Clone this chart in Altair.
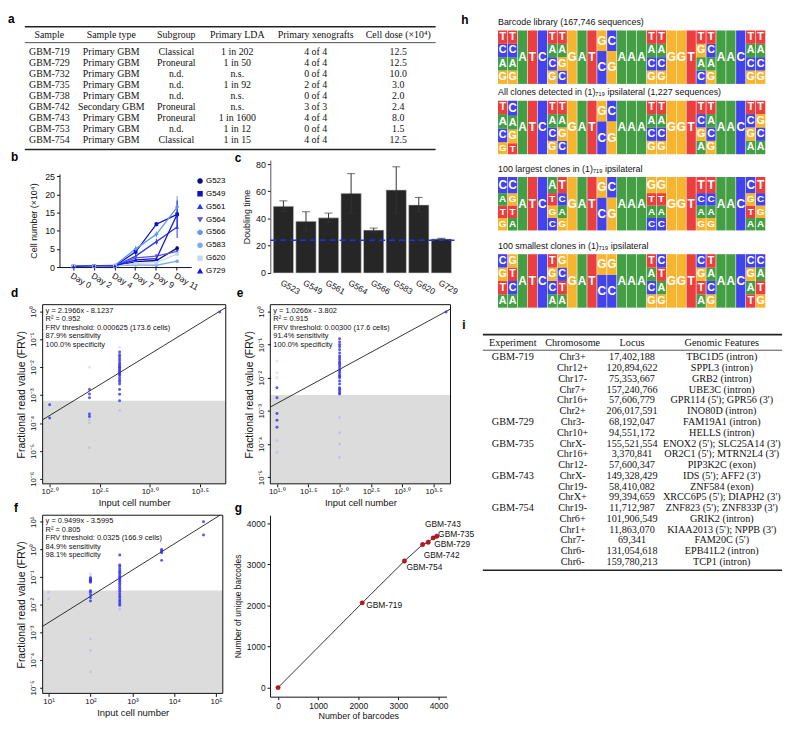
import altair as alt
import pandas as pd

SANS = "Liberation Sans"
SERIF = "Liberation Serif"
PT_BLUE = "#2f2ff0"

# ---------------- panel a : table ----------------
a_header = ["Sample", "Sample type", "Subgroup", "Primary LDA", "Primary xenografts", "Cell dose (×10⁴)"]
a_sample = ["GBM-719", "GBM-729", "GBM-732", "GBM-735", "GBM-738", "GBM-742", "GBM-743", "GBM-753", "GBM-754"]
a_type = ["Primary GBM", "Primary GBM", "Primary GBM", "Primary GBM", "Primary GBM",
          "Secondary GBM", "Primary GBM", "Primary GBM", "Primary GBM"]
a_subgroup = ["Classical", "Proneural", "n.d.", "n.d.", "n.d.", "Proneural", "Proneural", "n.d.", "Classical"]
a_lda = ["1 in 202", "1 in 50", "n.s.", "1 in 92", "n.s.", "n.s.", "1 in 1600", "1 in 12", "1 in 15"]
a_xeno = ["4 of 4", "4 of 4", "0 of 4", "2 of 4", "0 of 4", "3 of 3", "4 of 4", "0 of 4", "4 of 4"]
a_dose = ["12.5", "12.5", "10.0", "3.0", "2.0", "2.4", "8.0", "1.5", "12.5"]

# ---------------- panel b : growth curves ----------------
b_days = ["Day 0", "Day 2", "Day 4", "Day 7", "Day 9", "Day 11"]
b_lines = ["G523", "G549", "G561", "G564", "G566", "G583", "G620", "G729"]
b_colors = ["#0a0a80", "#1010c8", "#2a3cf0", "#5a58d6", "#5a9ae8", "#7aaaf0", "#c4d8f4", "#1414e6"]
b_shapes = ["circle", "square", "triangle-up", "triangle-down", "cross", "circle", "square", "triangle-up"]
b_mean = {
    "G523": [0.2, 0.3, 0.2, 1.5, 1.8, 5.2],
    "G549": [0.2, 0.3, 0.3, 4.2, 11.8, 14.5],
    "G561": [0.2, 0.3, 0.3, 3.0, 7.0, 11.0],
    "G564": [0.2, 0.3, 0.3, 2.5, 3.0, 4.3],
    "G566": [0.2, 0.3, 0.5, 5.0, 9.0, 16.5],
    "G583": [0.2, 0.2, 0.3, 0.6, 0.5, 1.6],
    "G620": [0.2, 0.2, 0.3, 1.0, 1.2, 3.6],
    "G729": [0.2, 0.3, 0.3, 2.0, 2.3, 14.5],
}
b_err = {
    "G523": [0, 0, 0, 0.3, 0.3, 0.5],
    "G549": [0, 0, 0, 0.8, 0.6, 1.0],
    "G561": [0, 0, 0, 0.5, 0.8, 3.0],
    "G564": [0, 0, 0, 0.3, 0.5, 0.5],
    "G566": [0, 0, 0, 0.8, 0.8, 3.0],
    "G583": [0, 0, 0, 0.2, 0.2, 0.4],
    "G620": [0, 0, 0, 0.2, 0.3, 0.6],
    "G729": [0, 0, 0, 0.4, 0.4, 3.8],
}

# ---------------- panel c : doubling time ----------------
c_samples = ["G523", "G549", "G561", "G564", "G566", "G583", "G620", "G729"]
c_mean = [49, 38, 40.5, 58.5, 31.5, 61, 50, 25]
c_lo = [45, 31, 37, 44, 30, 44, 45, 24.8]
c_hi = [53, 45, 44, 73, 33, 78, 55.5, 25.5]
c_ref = 24

# ---------------- panel d ----------------
d_cells = [100, 100,
           250, 250, 250, 250, 250, 250, 250, 250, 250,
           500, 500, 500, 500, 500, 500, 500, 500, 500, 500, 500, 500, 500, 500, 500, 500, 500,
           500, 500, 500, 500, 500, 500, 500,
           5000]
d_frv = [4.5e-4, 1.5e-4,
         1.0e-2, 1.6e-3, 1.1e-3, 8.0e-4, 2.1e-4, 1.7e-4, 1.3e-4, 1.0e-4, 1.3e-5,
         3.5e-2, 2.8e-2, 2.4e-2, 2.0e-2, 1.7e-2, 1.4e-2, 1.25e-2, 1.1e-2, 1.0e-2, 9.0e-3, 8.0e-3, 7.0e-3,
         6.3e-3, 5.6e-3, 5.0e-3, 4.2e-3, 3.5e-3,
         3.0e-3, 2.5e-3, 1.6e-3, 1.07e-3, 6.3e-4, 5.2e-2, 2.8e-4,
         0.95]
d_faint = [0, 0,
           1, 0, 0, 0, 0, 0, 1, 1, 1,
           0, 0, 0, 0, 0, 0, 0, 0, 0, 0, 0, 0, 0, 0, 0, 0, 0,
           0, 0, 0, 0, 0, 1, 1,
           0]
d_notes = ["y = 2.1966x - 8.1237", "R² = 0.952", "FRV threshold: 0.000625 (173.6 cells)",
           "87.9% sensitivity", "100.0% specificity"]

# ---------------- panel e ----------------
e_cells = [10] * 10 + [100] * 31 + [5000]
e_frv = [5e-3, 2.5e-3, 8.3e-4, 5.2e-4, 3.2e-4, 3.2e-2, 1.4e-2, 1.0e-2, 1.26e-4, 5.6e-5,
         0.15, 0.12, 0.10, 0.085, 0.07, 0.055, 0.045, 0.04, 0.035, 0.03, 0.027, 0.024, 0.021,
         0.018, 0.016, 0.014, 0.012, 0.011, 0.010, 0.008, 0.0065, 0.005, 0.0045, 0.004, 0.0035,
         0.0032, 0.26, 6.3e-4, 2.2e-4, 1.0e-4, 4.0e-5,
         0.95]
e_faint = [0] * 5 + [1] * 5 + [0] * 26 + [1] * 5 + [0]
e_notes = ["y = 1.0266x - 3.802", "R² = 0.915", "FRV threshold: 0.00300 (17.6 cells)",
           "91.4% sensitivity", "100.0% specificity"]

# ---------------- panel f ----------------
f_cells = [10, 10] + [100] * 16 + [500] * 25 + [5000] * 5 + [50000] * 2
f_frv = [2.8e-2, 1.6e-2,
         0.095, 0.085, 0.08, 0.075, 0.07, 0.065, 0.13, 0.11, 0.032, 0.028, 0.023, 0.018, 0.0135,
         5.7e-4, 2.2e-4, 3.6e-5,
         0.63, 0.27, 0.24, 0.2, 0.17, 0.15, 0.13, 0.11, 0.1, 0.09, 0.08, 0.07, 0.06, 0.05, 0.042,
         0.035, 0.03, 0.025, 0.021, 0.018, 0.015, 0.013, 0.011, 0.0095, 0.0068,
         1.0, 0.9, 0.82, 0.75, 0.4,
         10.0, 3.3]
f_faint = [1, 1,
           0, 0, 0, 0, 0, 0, 1, 1, 0, 0, 0, 0, 0, 1, 1, 1,
           0] + [0] * 23 + [1] + [0] * 5 + [0, 0]
f_notes = ["y = 0.9499x - 3.5995", "R² = 0.805", "FRV threshold: 0.0325 (166.9 cells)",
           "84.9% sensitivity", "98.1% specificity"]

# ---------------- panel g ----------------
g_barcodes = [0, 2099, 3151, 3605, 3743, 3867, 3957]
g_unique = [0, 2060, 3077, 3478, 3534, 3639, 3680]
g_names = ["", "GBM-719", "GBM-754", "GBM-742", "GBM-729", "GBM-735", "GBM-743"]

# ---------------- panel h : sequence logos (letters bottom -> top) ----------------
h_titles = ["Barcode library (167,746 sequences)",
            "All clones detected in (1)₇₁₉ ipsilateral (1,227 sequences)",
            "100 largest clones in (1)₇₁₉ ipsilateral",
            "100 smallest clones in (1)₇₁₉ ipsilateral"]
h_letters = [
    ["GACT", "GACT", "A", "T", "C", "GCAT", "CGAT", "G", "A", "T", "CG", "GC", "A", "A", "A",
     "GCAT", "GCAT", "G", "G", "T", "CAGT", "GACT", "A", "A", "C", "GCAT", "GCAT"],
    ["GCAT", "TGAC", "A", "T", "C", "GCAT", "CGAT", "G", "A", "T", "CG", "GC", "A", "A", "A",
     "GCAT", "GCAT", "G", "G", "T", "AGCT", "GCAT", "A", "A", "C", "AGCT", "ACGT"],
    ["GTAC", "ATGC", "A", "T", "C", "CGTA", "GACT", "G", "A", "T", "CG", "GC", "A", "A", "A",
     "CATG", "CATG", "G", "G", "T", "GACT", "GACT", "A", "A", "C", "ATGC", "AGCT"],
    ["ATGC", "ACTG", "A", "T", "C", "ACGT", "ATCG", "G", "A", "T", "CG", "CG", "A", "A", "A",
     "GCAT", "GATC", "G", "G", "T", "ATGC", "GCAT", "A", "A", "C", "TAGC", "GTAC"],
]
_eq4 = [1, 1, 1, 1]
_top = [1, 1, 1, 1.3]
h_weights = [
    [_eq4, _eq4, [1], [1], [1], _eq4, _eq4, [1], [1], [1], [1.6, 1], [1.6, 1], [1], [1], [1],
     _eq4, _eq4, [1], [1], [1], _eq4, _eq4, [1], [1], [1], _eq4, _eq4],
    [[0.9, 1, 1.1, 1], [0.8, 1, 1, 1.1], [1], [1], [1], _eq4, _eq4, [1], [1], [1], [1.6, 1], [1.6, 1],
     [1], [1], [1], _eq4, _eq4, [1], [1], [1], _eq4, _eq4, [1], [1], [1], _eq4, _eq4],
    [_top, _top, [1], [1], [1], _top, _top, [1], [1], [1], [1.6, 1], [1.6, 1],
     [1], [1], [1], _top, _top, [1], [1], [1], _top, _top, [1], [1], [1], _top, _top],
    [_eq4, _eq4, [1], [1], [1], _eq4, _eq4, [1], [1], [1], [1.6, 1], [1.6, 1], [1], [1], [1],
     _eq4, _eq4, [1], [1], [1], _eq4, _eq4, [1], [1], [1], _eq4, _eq4],
]
h_bases = ["A", "C", "G", "T"]
h_colors = ["#1b8a1b", "#1a1ae8", "#f5a300", "#e61414"]

# ---------------- panel i : table ----------------
i_header = ["Experiment", "Chromosome", "Locus", "Genomic Features"]
i_experiment = ["GBM-719", "", "", "", "", "", "GBM-729", "", "GBM-735", "", "", "GBM-743", "", "",
                "GBM-754", "", "", "", "", ""]
i_chrom = ["Chr3+", "Chr12+", "Chr17-", "Chr7+", "Chr16+", "Chr2+", "Chr3-", "Chr10+", "ChrX-", "Chr16+",
           "Chr12-", "ChrX-", "Chr19-", "ChrX+", "Chr19-", "Chr6+", "Chr1+", "Chr7-", "Chr6-", "Chr6-"]
i_locus = ["17,402,188", "120,894,622", "75,353,667", "157,240,766", "57,606,779", "206,017,591",
           "68,192,047", "94,551,172", "155,521,554", "3,370,841", "57,600,347", "149,328,429",
           "58,410,082", "99,394,659", "11,712,987", "101,906,549", "11,863,070", "69,341",
           "131,054,618", "159,780,213"]
i_feature = ["TBC1D5 (intron)", "SPPL3 (intron)", "GRB2 (intron)", "UBE3C (intron)",
             "GPR114 (5'); GPR56 (3')", "INO80D (intron)", "FAM19A1 (intron)", "HELLS (intron)",
             "ENOX2 (5'); SLC25A14 (3')", "OR2C1 (5'); MTRN2L4 (3')", "PIP3K2C (exon)",
             "IDS (5'); AFF2 (3')", "ZNF584 (exon)", "XRCC6P5 (5'); DIAPH2 (3')",
             "ZNF823 (5'); ZNF833P (3')", "GRIK2 (intron)", "KIAA2013 (5'); NPPB (3')",
             "FAM20C (5')", "EPB41L2 (intron)", "TCP1 (intron)"]

# =====================================================================
# layout (page pixels of the reference; converted to chart pixels below)
W, H = 792, 725
OX, OY = 8, 8
BOX = {  # left, top, right, bottom
    "a": (25, 23.3, 440, 147.3),
    "b": (60, 172, 193, 266),
    "c": (273, 158, 459, 272),
    "d": (43, 304, 228, 485),
    "e": (273, 304, 455, 485),
    "f": (43, 516.7, 225, 696.7),
    "g": (272.7, 516.7, 451, 700),
    "i": (487.7, 334.3, 790, 572.3),
}
H_LEFT, H_RIGHT, H_TOPS, H_HGT = 503, 773, [27, 98, 175, 253], 54
LETTERS = {"a": (8, 15), "b": (11, 155), "c": (237, 155.5), "d": (11, 292), "e": (239, 292),
           "f": (14, 509), "g": (237, 509), "h": (466, 16), "i": (467, 325)}


def xr(box):
    return [box[0] - OX, box[2] - OX]


def yr(box):
    return [box[3] - OY, box[1] - OY]


SUP = str.maketrans("0123456789-.", "⁰¹²³⁴⁵⁶⁷⁸⁹⁻·")


def pow_expr(exps, dec):
    expr = "''"
    for e in reversed(exps):
        lab = "10" + f"{e:.{dec}f}".translate(SUP)
        expr = f"(abs(log(datum.value)/LN10 - ({e})) < 0.01 ? '{lab}' : {expr})"
    return expr


def ax(**kw):
    d = dict(labelFont=SANS, titleFont=SANS, labelColor="#111", titleColor="#111", tickColor="#111",
             domainColor="#111", grid=False, titleFontWeight="normal", labelFlush=False, labelOverlap=False)
    d.update(kw)
    return alt.Axis(**d)


def xaxis(box, **kw):
    return ax(orient="bottom", offset=(box[3] - OY) - H, **kw)


def yaxis(box, **kw):
    return ax(orient="left", offset=-(box[0] - OX), **kw)


def letter(ch):
    x, y = LETTERS[ch]
    return alt.Chart(pd.DataFrame({"t": [ch]})).mark_text(
        font=SANS, fontSize=12, fontWeight="bold", align="left", baseline="middle", color="black"
    ).encode(text="t:N", x=alt.value(x - OX), y=alt.value(y - OY))


def text_em(s):
    """rough printed width of a string, in em"""
    w = 0.0
    for ch in s:
        if ch.isupper():
            w += 0.72
        elif ch.isdigit() or ch.islower():
            w += 0.5
        elif ch == " ":
            w += 0.25
        else:
            w += 0.3
    return w


def table(header, columns, box, fsize, head_y, rule_y, row0, step, gap):
    height = box[3] - box[1]
    allcols = [[h] + list(c) for h, c in zip(header, columns)]
    widths = [max(text_em(s) for s in col) + gap for col in allcols]
    tot = float(sum(widths))
    centers, acc = [], 0
    for L in widths:
        centers.append((acc + L / 2) / tot)
        acc += L
    recs = []
    for j, h in enumerate(header):
        recs.append({"x": centers[j], "y": head_y, "t": h})
    for j, col in enumerate(columns):
        for r, v in enumerate(col):
            recs.append({"x": centers[j], "y": row0 + r * step, "t": v})
    df = pd.DataFrame(recs)
    xs = alt.Scale(domain=[0, 1], range=xr(box))
    ys = alt.Scale(domain=[0, height], range=[box[1] - OY, box[3] - OY])
    txt = alt.Chart(df).mark_text(font=SERIF, fontSize=fsize, baseline="middle", color="#111").encode(
        x=alt.X("x:Q", scale=xs, axis=None), y=alt.Y("y:Q", scale=ys, axis=None), text="t:N")
    rules = alt.Chart(pd.DataFrame({"x": [0, 0, 0], "x2": [1, 1, 1], "y": [0, rule_y, height],
                                    "w": [1.6, 0.8, 1.6]})).mark_rule(color="#222").encode(
        x=alt.X("x:Q", scale=xs, axis=None), x2="x2:Q", y=alt.Y("y:Q", scale=ys, axis=None),
        strokeWidth=alt.StrokeWidth("w:Q", scale=None))
    return alt.layer(rules, txt)


# ---------------- panel a ----------------
chart_a = table(a_header, [a_sample, a_type, a_subgroup, a_lda, a_xeno, a_dose], BOX["a"], 10,
                8.4, 16, 25, 11.17, 2)

# ---------------- panel b ----------------
recs = []
for s in b_lines:
    for d, v, e in zip(b_days, b_mean[s], b_err[s]):
        recs.append({"series": s, "day": d, "v": v, "lo": v - e, "hi": v + e})
b_df = pd.DataFrame(recs)
bx = alt.X("day:O", sort=b_days, scale=alt.Scale(domain=b_days, range=xr(BOX["b"]), padding=0.35),
           axis=xaxis(BOX["b"], title=None, labelAngle=30, labelAlign="left", labelBaseline="top",
                      labelFontSize=8.5, tickSize=3, labelPadding=1))
by_scale = alt.Scale(domain=[0, 25.6], nice=False, range=yr(BOX["b"]))
by_axis = yaxis(BOX["b"], values=[0, 5, 10, 15, 20, 25], title="Cell number (×10⁴)", titleFontSize=9,
                labelFontSize=9, tickSize=3, titlePadding=6)
b_leg = alt.Legend(title=None, orient="none", legendX=198 - OX, legendY=175 - OY, labelFontSize=8,
                   labelFont=SANS, symbolSize=18, rowPadding=3, labelOffset=2, symbolStrokeWidth=1.2)
bcol = alt.Color("series:N", scale=alt.Scale(domain=b_lines, range=b_colors), legend=b_leg)
bshape = alt.Shape("series:N", scale=alt.Scale(domain=b_lines, range=b_shapes), legend=b_leg)
b_line_layer = alt.Chart(b_df).mark_line(strokeWidth=1.3, point=alt.OverlayMarkDef(size=14, filled=True)).encode(
    x=bx, y=alt.Y("v:Q", scale=by_scale, axis=by_axis), color=bcol, shape=bshape)
b_err_layer = alt.Chart(b_df).transform_filter("datum.hi > datum.lo").mark_rule(strokeWidth=1).encode(
    x=bx, y=alt.Y("lo:Q", scale=by_scale, axis=by_axis), y2="hi:Q", color=bcol)
chart_b = alt.layer(b_err_layer, b_line_layer)

# ---------------- panel c ----------------
c_df = pd.DataFrame({"s": c_samples, "m": c_mean, "lo": c_lo, "hi": c_hi})
cx = alt.X("s:N", sort=c_samples,
           scale=alt.Scale(domain=c_samples, range=xr(BOX["c"]), paddingInner=0.1, paddingOuter=0.13),
           axis=xaxis(BOX["c"], title=None, labelAngle=30, labelAlign="left", labelBaseline="top",
                      labelFontSize=8.5, ticks=False, domain=False, labelPadding=5))
cy_scale = alt.Scale(domain=[0, 82.9], nice=False, range=yr(BOX["c"]))
cy_axis = yaxis(BOX["c"], values=[0, 20, 40, 60, 80], title="Doubling time", titleFontSize=9,
                labelFontSize=9, tickSize=3, titlePadding=4, domainColor="#555")
c_bars = alt.Chart(c_df).mark_bar(color="#262626", stroke="#cfcfcf", strokeWidth=0.6).encode(
    x=cx, y=alt.Y("m:Q", scale=cy_scale, axis=cy_axis))
c_err = alt.Chart(c_df).mark_rule(color="#333", strokeWidth=1).encode(
    x=cx, y=alt.Y("lo:Q", scale=cy_scale, axis=cy_axis), y2="hi:Q")
c_cap1 = alt.Chart(c_df).mark_tick(color="#333", thickness=1, size=8).encode(
    x=cx, y=alt.Y("lo:Q", scale=cy_scale, axis=cy_axis))
c_cap2 = alt.Chart(c_df).mark_tick(color="#333", thickness=1, size=8).encode(
    x=cx, y=alt.Y("hi:Q", scale=cy_scale, axis=cy_axis))
c_refl = alt.Chart(pd.DataFrame({"m": [c_ref]})).mark_rule(
    color="#2a2ae6", strokeDash=[6, 4], strokeWidth=1.5).encode(
    y=alt.Y("m:Q", scale=cy_scale, axis=cy_axis), x=alt.value(BOX["c"][0] - OX), x2=alt.value(BOX["c"][2] - OX))
chart_c = alt.layer(c_bars, c_err, c_cap1, c_cap2, c_refl)


# ---------------- panels d, e, f ----------------
def frv_panel(box, cells, frv, faint, xlim, ylim, xexp, xdec, yexp, slope, icpt, thr, notes):
    xmin, xmax = 10 ** xlim[0], 10 ** xlim[1]
    ymin, ymax = 10 ** ylim[0], 10 ** ylim[1]
    xsc = alt.Scale(type="log", domain=[xmin, xmax], nice=False, range=xr(box))
    ysc = alt.Scale(type="log", domain=[ymin, ymax], nice=False, range=yr(box))
    xax = xaxis(box, values=[10 ** e for e in xexp], labelExpr=pow_expr(xexp, xdec), title="Input cell number",
                labelFontSize=8, titleFontSize=9.5, tickSize=3, labelPadding=1, titlePadding=2, domain=False)
    yax = yaxis(box, values=[10 ** e for e in yexp], labelExpr=pow_expr(yexp, 0),
                title="Fractional read value (FRV)", labelAngle=-90, labelAlign="center",
                labelBaseline="bottom", labelFontSize=8, titleFontSize=10.5, tickSize=3, labelPadding=2,
                titlePadding=3, domain=False)
    X = lambda f: alt.X(f, scale=xsc, axis=xax)
    Y = lambda f: alt.Y(f, scale=ysc, axis=yax)
    # fitted line endpoints kept inside the frame
    lx0 = max(xlim[0], (ylim[0] - icpt) / slope)
    lx1 = min(xlim[1], (ylim[1] - icpt) / slope)
    df = pd.DataFrame({"cells": cells, "frv": frv, "faint": faint})
    shade = alt.Chart(pd.DataFrame({"x": [xmin], "x2": [xmax], "y": [thr], "y2": [ymin]})).mark_rect(
        color="#dcdcdc").encode(x=X("x:Q"), x2="x2:Q", y=Y("y:Q"), y2="y2:Q")
    fit = alt.Chart(pd.DataFrame({"cells": [10 ** lx0, 10 ** lx1]})).transform_calculate(
        frv=f"pow(10, {slope}*log(datum.cells)/LN10 + ({icpt}))").mark_line(
        color="black", strokeWidth=0.8).encode(x=X("cells:Q"), y=Y("frv:Q"))
    pts = alt.Chart(df).mark_circle(size=9, color=PT_BLUE).encode(
        x=X("cells:Q"), y=Y("frv:Q"),
        opacity=alt.Opacity("faint:N", scale=alt.Scale(domain=[0, 1], range=[0.8, 0.13]), legend=None))
    frame = alt.Chart(pd.DataFrame({"x": [xmin], "x2": [xmax], "y": [ymin], "y2": [ymax]})).mark_rect(
        fillOpacity=0, stroke="#111", strokeWidth=1).encode(x=X("x:Q"), x2="x2:Q", y=Y("y:Q"), y2="y2:Q")
    note = alt.Chart(pd.DataFrame({"t": [0]})).mark_text(
        align="left", baseline="top", fontSize=7.5, lineHeight=8.6, font=SANS, color="#111").encode(
        x=alt.value(box[0] - OX + 3), y=alt.value(box[1] - OY + 2), text=alt.value(notes))
    return alt.layer(shade, fit, pts, frame, note)


chart_d = frv_panel(BOX["d"], d_cells, d_frv, d_faint, [1.93, 3.76], [-6.18, 0.24], [2.0, 2.5, 3.0, 3.5], 1,
                    [0, -1, -2, -3, -4, -5, -6], 2.1966, -8.1237, 0.000625, d_notes)
chart_e = frv_panel(BOX["e"], e_cells, e_frv, e_faint, [0.894, 3.77], [-5.2, 0.2],
                    [1.0, 1.5, 2.0, 2.5, 3.0, 3.5], 1, [0, -1, -2, -3, -4, -5], 1.0266, -3.802, 0.003, e_notes)
chart_f = frv_panel(BOX["f"], f_cells, f_frv, f_faint, [0.858, 5.16], [-5.215, 1.237], [1, 2, 3, 4, 5], 0,
                    [1, 0, -1, -2, -3, -4, -5], 0.9499, -3.5995, 0.0325, f_notes)

# ---------------- panel g ----------------
g_df = pd.DataFrame({"bc": g_barcodes, "ub": g_unique, "name": g_names})
gxs = alt.Scale(domain=[-200, 4200], nice=False, range=xr(BOX["g"]))
gys = alt.Scale(domain=[-220, 4190], nice=False, range=yr(BOX["g"]))
gxa = xaxis(BOX["g"], values=[0, 1000, 2000, 3000, 4000], title="Number of barcodes", labelFontSize=8.5,
            titleFontSize=9, tickSize=3, format="d", titlePadding=2)
gya = yaxis(BOX["g"], values=[0, 1000, 2000, 3000, 4000], title="Number of unique barcodes", labelFontSize=8.5,
            titleFontSize=8.5, tickSize=3, format="d", titlePadding=4)
g_line = alt.Chart(g_df).mark_line(color="black", strokeWidth=0.8).encode(
    x=alt.X("bc:Q", scale=gxs, axis=gxa), y=alt.Y("ub:Q", scale=gys, axis=gya), order="bc:Q")
g_pts = alt.Chart(g_df).mark_circle(size=20, color="#c8101e", opacity=1, stroke="#5a0000", strokeWidth=0.4).encode(
    x=alt.X("bc:Q", scale=gxs, axis=gxa), y=alt.Y("ub:Q", scale=gys, axis=gya))
g_offsets = {"GBM-719": (4, 2), "GBM-754": (2, 6), "GBM-742": (1, 11), "GBM-729": (6, 2),
             "GBM-735": (5, -4), "GBM-743": (-12, -12)}
g_labels = [alt.Chart(g_df).transform_filter(alt.datum.name == n).mark_text(
    align="left", baseline="middle", fontSize=8.5, font=SANS, color="#111", dx=o[0], dy=o[1]).encode(
    x=alt.X("bc:Q", scale=gxs, axis=gxa), y=alt.Y("ub:Q", scale=gys, axis=gya), text="name:N")
    for n, o in g_offsets.items()]
chart_g = alt.layer(g_line, g_pts, *g_labels)


# ---------------- panel h ----------------
def logo(letters, weights, title, top):
    recs = []
    for p, (ls, ws) in enumerate(zip(letters, weights)):
        tot = float(sum(ws))
        acc = 0.0
        for l, w in zip(ls, ws):
            f = w / tot
            fs = min(f * H_HGT * 0.8, 12)
            recs.append({"pos": p, "base": l, "y0": acc, "y1": acc + f, "ym": acc + f / 2,
                         "fs": fs if fs >= 5 else 0})
            acc += f
    df = pd.DataFrame(recs)
    xs = alt.X("pos:O", scale=alt.Scale(range=[H_LEFT - OX, H_RIGHT - OX], paddingInner=0.06, paddingOuter=0),
               axis=None)
    ys = alt.Scale(domain=[0, 1], nice=False, range=[top + H_HGT - OY, top - OY])
    rect = alt.Chart(df).mark_bar(opacity=0.82).encode(
        x=xs, y=alt.Y("y0:Q", scale=ys, axis=None), y2="y1:Q",
        color=alt.Color("base:N", scale=alt.Scale(domain=h_bases, range=h_colors), legend=None))
    txt = alt.Chart(df).mark_text(font=SANS, fontWeight="bold", color="white", baseline="middle").encode(
        x=xs, y=alt.Y("ym:Q", scale=ys, axis=None), text="base:N", size=alt.Size("fs:Q", scale=None))
    ttl = alt.Chart(pd.DataFrame({"t": [title]})).mark_text(
        font=SANS, fontSize=9, align="left", baseline="middle", color="#111").encode(
        text="t:N", x=alt.value(H_LEFT - OX), y=alt.value(top - 8.5 - OY))
    return alt.layer(rect, txt, ttl)


chart_h = [logo(h_letters[k], h_weights[k], h_titles[k], H_TOPS[k]) for k in range(4)]

# ---------------- panel i ----------------
chart_i = table(i_header, [i_experiment, i_chrom, i_locus, i_feature], BOX["i"], 10.3,
                8, 15.7, 23, 10.88, 2)

# ---------------- assemble ----------------
panels = [chart_a, chart_b, chart_c, chart_d, chart_e, chart_f, chart_g] + chart_h + [chart_i] + \
         [letter(k) for k in "abcdefghi"]
chart = alt.layer(*panels).resolve_scale(
    x="independent", y="independent", color="independent", shape="independent",
    opacity="independent", size="independent", strokeWidth="independent"
).resolve_axis(x="independent", y="independent").properties(
    width=W, height=H, padding=0, autosize=alt.AutoSizeParams(type="none"), background="white"
).configure_view(stroke=None)

chart.save("out.html", embed_options={"renderer": "svg", "actions": False})
